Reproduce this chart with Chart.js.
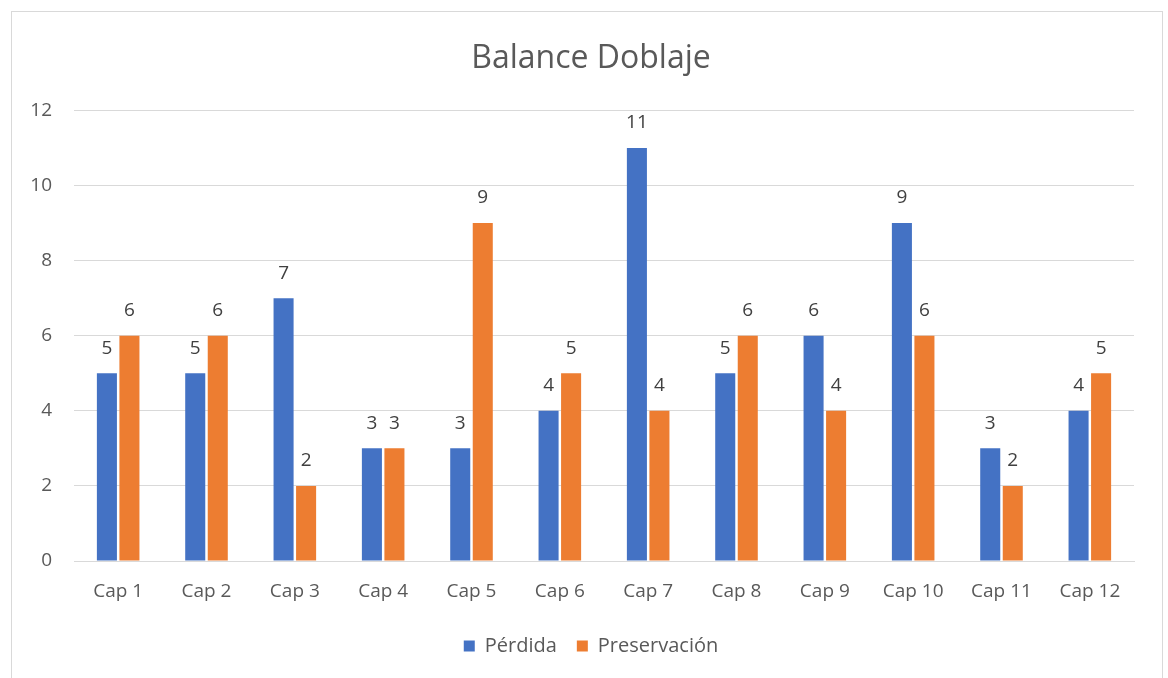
<!DOCTYPE html>
<html>
<head>
<meta charset="utf-8">
<script src="https://cdn.jsdelivr.net/npm/chart.js@4.4.0/dist/chart.umd.min.js"></script>
<style>
  html, body { margin:0; padding:0; background:#fff; }
  #wrap { position:relative; width:1168px; height:678px; overflow:hidden; }
  #frame { position:absolute; left:11px; top:11px; width:1152px; height:700px; border:1.5px solid #d9d9d9; box-sizing:border-box; }
  canvas { position:absolute; left:0; top:0; }
</style>
</head>
<body>
<div id="wrap">
  <div id="frame"></div>
  <canvas id="c" width="1168" height="678"></canvas>
</div>
<script>
const chartTitle = "Balance Doblaje";
const categories = ["Cap 1","Cap 2","Cap 3","Cap 4","Cap 5","Cap 6","Cap 7","Cap 8","Cap 9","Cap 10","Cap 11","Cap 12"];
const seriesNames = ["Pérdida","Preservación"];
const perdida = [5,5,7,3,3,4,11,5,6,9,3,4];
const preservacion = [6,6,2,3,9,5,4,6,4,6,2,5];
const yTicks = [0,2,4,6,8,10,12];

const FONT = "'Open Sans', 'Noto Sans', sans-serif";
const TXT = "#595959";

const dataLabels = {
  id: 'dataLabels',
  afterDatasetsDraw(chart) {
    const ctx = chart.ctx;
    ctx.save();
    ctx.font = "19px " + FONT;
    ctx.fillStyle = "#404040";
    ctx.textAlign = "center";
    ctx.textBaseline = "middle";
    chart.data.datasets.forEach((ds, i) => {
      const meta = chart.getDatasetMeta(i);
      meta.data.forEach((bar, j) => {
        ctx.fillText(String(ds.data[j]), bar.x, bar.y - 25);
      });
    });
    ctx.restore();
  }
};

new Chart(document.getElementById('c'), {
  type: 'bar',
  data: {
    labels: categories,
    datasets: [
      { label: seriesNames[0], data: perdida, backgroundColor: '#4472C4', borderWidth: 0 },
      { label: seriesNames[1], data: preservacion, backgroundColor: '#ED7D31', borderWidth: 0 }
    ]
  },
  options: {
    responsive: false,
    animation: false,
    devicePixelRatio: 1,
    layout: { padding: { left: 30, right: 16, top: 12, bottom: 12 } },
    datasets: { bar: { categoryPercentage: 0.51, barPercentage: 0.89 } },
    plugins: {
      title: {
        display: true, text: chartTitle, color: TXT,
        font: { family: FONT, size: 32, weight: 'normal' },
        padding: { top: 28, bottom: 32 }
      },
      legend: {
        position: 'bottom',
        labels: {
          color: TXT, font: { family: FONT, size: 20 },
          boxWidth: 11, boxHeight: 11, padding: 20
        }
      },
      tooltip: { enabled: false }
    },
    scales: {
      x: {
        grid: { display: false },
        border: { color: '#d9d9d9', width: 1 },
        ticks: { color: TXT, font: { family: FONT, size: 19 }, padding: 11 },
        afterFit(s) { s.height = 55; }
      },
      y: {
        min: 0, max: 12,
        afterBuildTicks(s) { s.ticks = yTicks.map(v => ({ value: v })); },
        grid: { color: '#d9d9d9', drawTicks: false },
        border: { display: false },
        ticks: { color: TXT, font: { family: FONT, size: 19 }, padding: 22 },
        afterFit(s) { s.width = 44; }
      },
      yPad: {
        position: 'right',
        min: 0, max: 12,
        grid: { display: false },
        border: { display: false },
        ticks: { display: false },
        afterFit(s) { s.width = 18; }
      }
    }
  },
  plugins: [dataLabels]
});
</script>
</body>
</html>
